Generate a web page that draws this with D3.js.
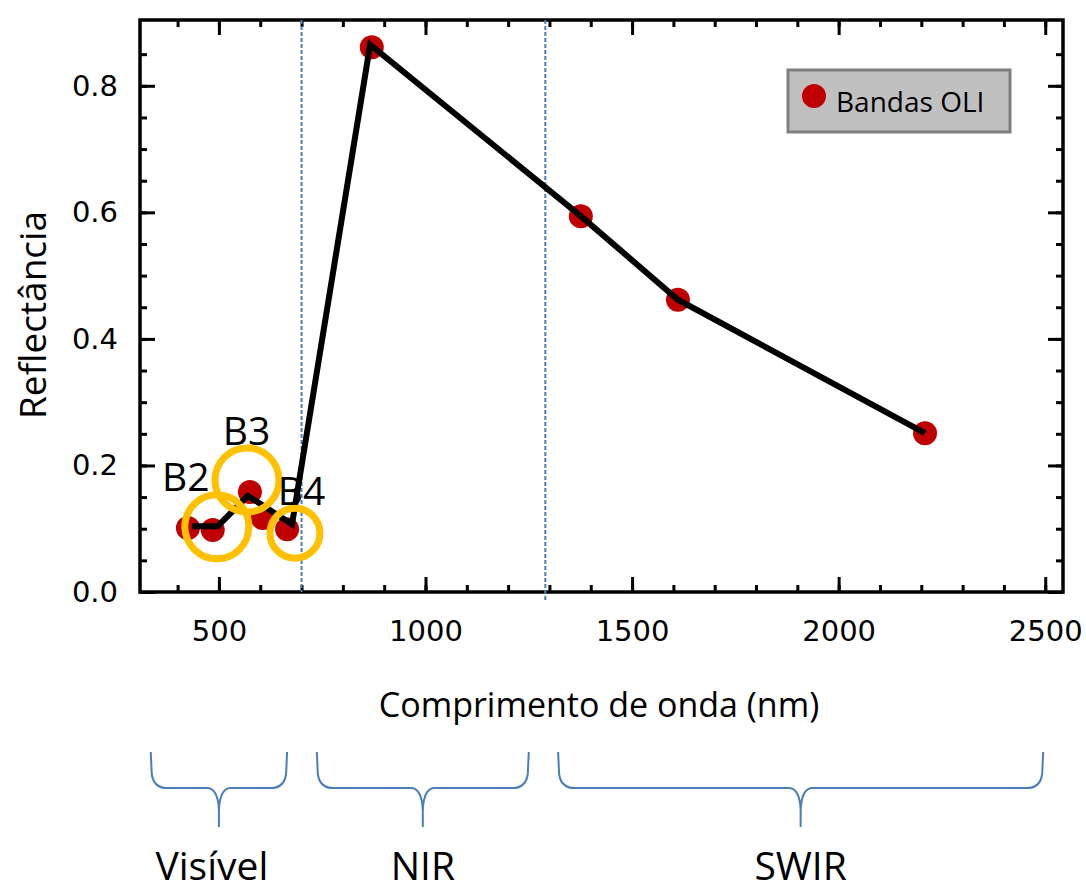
<!DOCTYPE html>
<html>
<head>
<meta charset="utf-8">
<script src="https://cdn.jsdelivr.net/npm/d3@7"></script>
<style>
  html, body { margin: 0; padding: 0; background: #fff; }
  svg { display: block; }
</style>
</head>
<body>
<div id="container"></div>
<script>
// bandas OLI (pontos)
const bandWl = [425, 485, 575, 606, 665, 870, 1376, 1611, 2209];
const bandRefl = [0.101, 0.098, 0.158, 0.117, 0.099, 0.861, 0.594, 0.462, 0.251];

// linha desenhada sobre os pontos
const lineWl = [435, 497, 570, 677, 866, 1376, 1611, 2209];
const lineRefl = [0.104, 0.104, 0.152, 0.107, 0.865, 0.594, 0.462, 0.251];

// destaques B2, B3, B4
const highlightLabels = ['B2', 'B3', 'B4'];
const highlightWl = [495, 568, 684];
const highlightRefl = [0.103, 0.177, 0.093];
const highlightLabelWl = [420, 567, 700];
const highlightLabelRefl = [0.16, 0.232, 0.138];

// limites das regiões
const dividerWl = [700, 1290];
const regionNames = ['Visível', 'NIR', 'SWIR'];
const regionStart = [335, 737, 1321];
const regionEnd = [665, 1250, 2495];

const xTicks = [500, 1000, 1500, 2000, 2500];
const yTicks = [0, 0.2, 0.4, 0.6, 0.8];

const width = 1086;
const height = 894;
const plotLeft = 140, plotRight = 1063, plotTop = 20, plotBottom = 592;

const svg = d3.select('#container')
  .append('svg')
  .attr('width', width)
  .attr('height', height);

const x = d3.scaleLinear().domain([309, 2543]).range([plotLeft, plotRight]);
const y = d3.scaleLinear().domain([0, 0.904]).range([plotBottom, plotTop]);

const xMinor = d3.range(400, 2501, 100);
const yMinor = d3.range(0.05, 0.86, 0.05);

const tickFont = '"DejaVu Sans", Verdana, sans-serif';
const textFont = '"Open Sans", "Liberation Sans", sans-serif';

function styleAxis(g) {
  g.select('.domain').remove();
  g.selectAll('.tick line').attr('stroke', '#000').attr('stroke-width', 3);
  g.selectAll('.tick text')
    .attr('fill', '#000')
    .style('font-family', tickFont)
    .style('font-size', '29px');
}

// eixos (ticks para dentro)
svg.append('g')
  .attr('transform', `translate(0,${plotBottom})`)
  .call(d3.axisBottom(x).tickValues(xMinor).tickSize(-7).tickFormat(''))
  .call(styleAxis);
svg.append('g')
  .attr('transform', `translate(0,${plotBottom})`)
  .call(d3.axisBottom(x).tickValues(xTicks).tickSize(-15).tickPadding(28).tickFormat(d3.format('d')))
  .call(styleAxis);
svg.append('g')
  .attr('transform', `translate(0,${plotTop})`)
  .call(d3.axisTop(x).tickValues(xMinor).tickSize(-7).tickFormat(''))
  .call(styleAxis);
svg.append('g')
  .attr('transform', `translate(0,${plotTop})`)
  .call(d3.axisTop(x).tickValues(xTicks).tickSize(-15).tickFormat(''))
  .call(styleAxis);

svg.append('g')
  .attr('transform', `translate(${plotLeft},0)`)
  .call(d3.axisLeft(y).tickValues(yMinor).tickSize(-7).tickFormat(''))
  .call(styleAxis);
svg.append('g')
  .attr('transform', `translate(${plotLeft},0)`)
  .call(d3.axisLeft(y).tickValues(yTicks).tickSize(-15).tickPadding(22).tickFormat(d3.format('.1f')))
  .call(styleAxis);
svg.append('g')
  .attr('transform', `translate(${plotRight},0)`)
  .call(d3.axisRight(y).tickValues(yMinor).tickSize(-7).tickFormat(''))
  .call(styleAxis);
svg.append('g')
  .attr('transform', `translate(${plotRight},0)`)
  .call(d3.axisRight(y).tickValues(yTicks).tickSize(-15).tickFormat(''))
  .call(styleAxis);

// moldura
svg.append('rect')
  .attr('x', plotLeft)
  .attr('y', plotTop)
  .attr('width', plotRight - plotLeft)
  .attr('height', plotBottom - plotTop)
  .attr('fill', 'none')
  .attr('stroke', '#000')
  .attr('stroke-width', 3.5);

// linhas verticais tracejadas
svg.selectAll('.divider')
  .data(dividerWl)
  .enter()
  .append('line')
  .attr('class', 'divider')
  .attr('x1', (d) => x(d))
  .attr('x2', (d) => x(d))
  .attr('y1', plotTop)
  .attr('y2', (d, i) => (i === 1 ? plotBottom + 10 : plotBottom))
  .attr('stroke', '#4a7ebb')
  .attr('stroke-width', 2)
  .attr('stroke-dasharray', '4,2');

// pontos
svg.selectAll('.band')
  .data(bandWl)
  .enter()
  .append('circle')
  .attr('class', 'band')
  .attr('cx', (d) => x(d))
  .attr('cy', (d, i) => y(bandRefl[i]))
  .attr('r', 12)
  .attr('fill', '#c00000');

// linha
svg.append('path')
  .datum(lineWl)
  .attr('fill', 'none')
  .attr('stroke', '#000')
  .attr('stroke-width', 6)
  .attr('stroke-linejoin', 'miter')
  .attr('d', d3.line().x((d) => x(d)).y((d, i) => y(lineRefl[i])));

// círculos laranja
const ringR = [32, 32, 25];
svg.selectAll('.ring')
  .data(highlightWl)
  .enter()
  .append('circle')
  .attr('class', 'ring')
  .attr('cx', (d) => x(d))
  .attr('cy', (d, i) => y(highlightRefl[i]))
  .attr('r', (d, i) => ringR[i])
  .attr('fill', 'none')
  .attr('stroke', '#ffc000')
  .attr('stroke-width', 7);

svg.selectAll('.hl-label')
  .data(highlightLabels)
  .enter()
  .append('text')
  .attr('class', 'hl-label')
  .attr('x', (d, i) => x(highlightLabelWl[i]))
  .attr('y', (d, i) => y(highlightLabelRefl[i]))
  .attr('text-anchor', 'middle')
  .style('font-family', textFont)
  .style('font-size', '39px')
  .attr('fill', '#000')
  .text((d) => d);

// legenda
const legend = svg.append('g').attr('transform', 'translate(788,70)');
legend.append('rect')
  .attr('width', 222)
  .attr('height', 62)
  .attr('fill', '#c0c0c0')
  .attr('stroke', '#7f7f7f')
  .attr('stroke-width', 3);
legend.append('circle')
  .attr('cx', 26)
  .attr('cy', 26)
  .attr('r', 12)
  .attr('fill', '#c00000');
legend.append('text')
  .attr('x', 48)
  .attr('y', 42)
  .style('font-family', textFont)
  .style('font-size', '28px')
  .attr('fill', '#000')
  .text('Bandas OLI');

// títulos dos eixos
svg.append('text')
  .attr('x', 599)
  .attr('y', 717)
  .attr('text-anchor', 'middle')
  .style('font-family', textFont)
  .style('font-size', '34px')
  .attr('fill', '#000')
  .text('Comprimento de onda (nm)');

svg.append('text')
  .attr('transform', 'translate(46,315) rotate(-90)')
  .attr('text-anchor', 'middle')
  .style('font-family', textFont)
  .style('font-size', '37px')
  .attr('fill', '#000')
  .text('Reflectância');

// chaves das regiões
const braceTop = 752, braceMid = 788, braceTip = 827;
function bracePath(x0, x1) {
  const xm = (x0 + x1) / 2;
  const p = d3.path();
  p.moveTo(x0, braceTop);
  p.lineTo(x0 + 1, braceMid - 14);
  p.quadraticCurveTo(x0 + 3, braceMid, x0 + 16, braceMid);
  p.lineTo(xm - 12, braceMid);
  p.quadraticCurveTo(xm - 1, braceMid, xm, braceMid + 22);
  p.lineTo(xm, braceTip);
  p.moveTo(xm, braceMid + 22);
  p.quadraticCurveTo(xm + 1, braceMid, xm + 12, braceMid);
  p.lineTo(x1 - 16, braceMid);
  p.quadraticCurveTo(x1 - 3, braceMid, x1 - 1, braceMid - 14);
  p.lineTo(x1, braceTop);
  return p.toString();
}

svg.selectAll('.brace')
  .data(regionNames)
  .enter()
  .append('path')
  .attr('class', 'brace')
  .attr('d', (d, i) => bracePath(x(regionStart[i]), x(regionEnd[i])))
  .attr('fill', 'none')
  .attr('stroke', '#4a7ebb')
  .attr('stroke-width', 2);

svg.selectAll('.region-label')
  .data(regionNames)
  .enter()
  .append('text')
  .attr('class', 'region-label')
  .attr('x', (d, i) => (x(regionStart[i]) + x(regionEnd[i])) / 2 + (i === 0 ? -7 : 0))
  .attr('y', 880)
  .attr('text-anchor', 'middle')
  .style('font-family', textFont)
  .style('font-size', '39px')
  .attr('fill', '#000')
  .text((d) => d);
</script>
</body>
</html>
